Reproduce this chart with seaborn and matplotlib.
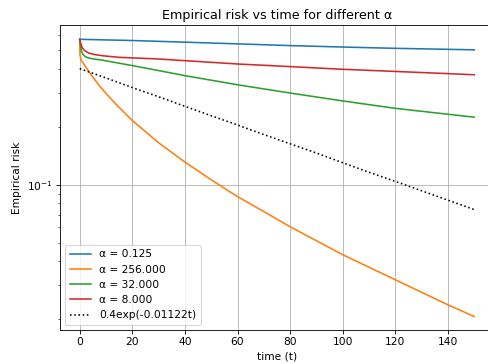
import numpy as np
import pandas as pd
import matplotlib
matplotlib.use("Agg")
import matplotlib.pyplot as plt
import seaborn as sns

# ---- data ----
t_blue = [0, 20, 40, 60, 80, 100, 120, 150]
v_blue = [0.568, 0.560, 0.549, 0.538, 0.527, 0.518, 0.510, 0.501]

t_orange = [0, 0.1, 0.3, 0.5, 1, 2.8, 5, 7.5, 10, 12.5, 15, 20, 30, 40, 50, 60, 70, 80,
            100, 120, 140, 150]
v_orange = [0.568, 0.469, 0.458, 0.444, 0.434, 0.399, 0.361, 0.326, 0.2975, 0.273, 0.2516,
            0.2153, 0.165, 0.131, 0.106, 0.0867, 0.0725, 0.0605, 0.0433, 0.0321, 0.0238,
            0.0207]

t_green = [0, 0.3, 0.65, 1.2, 2.2, 4, 8.5, 15, 25, 40, 60, 80, 100, 120, 150]
v_green = [0.568, 0.525, 0.495, 0.475, 0.461, 0.452, 0.443, 0.427, 0.403, 0.368, 0.330,
           0.299, 0.272, 0.249, 0.224]

t_red = [0, 0.4, 0.9, 1.8, 3.4, 5.5, 8.5, 15, 30, 60, 80, 100, 120, 150]
v_red = [0.568, 0.54, 0.516, 0.497, 0.482, 0.474, 0.467, 0.458, 0.449, 0.423, 0.410, 0.397,
         0.387, 0.372]

alpha_labels = ["α = 0.125", "α = 256.000", "α = 32.000", "α = 8.000"]

# fitted reference line 0.4exp(-0.01122t)
t_fit = [0, 10, 20, 30, 40, 50, 60, 70, 80, 90, 100, 110, 120, 130, 140, 150]
v_fit = [0.400, 0.358, 0.319, 0.286, 0.255, 0.228, 0.204, 0.182, 0.163, 0.146, 0.130,
         0.116, 0.104, 0.0930, 0.0831, 0.0743]
fit_label = "0.4exp(-0.01122t)"

frames = []
for lab, tt, vv in zip(alpha_labels, [t_blue, t_orange, t_green, t_red],
                       [v_blue, v_orange, v_green, v_red]):
    frames.append(pd.DataFrame({"t": tt, "risk": vv, "alpha": lab}))
df = pd.concat(frames, ignore_index=True)
df_fit = pd.DataFrame({"t": t_fit, "risk": v_fit})

DPI = 76.25
fig = plt.figure(figsize=(488 / DPI, 364 / DPI), dpi=DPI)
ax = fig.add_axes([60 / 488, 1 - 330 / 364, 434 / 488, 305 / 364])

palette = ["#1f77b4", "#ff7f0e", "#2ca02c", "#d62728"]
sns.lineplot(data=df, x="t", y="risk", hue="alpha", hue_order=alpha_labels,
             palette=palette, estimator=None, sort=False, linewidth=1.5, ax=ax)
sns.lineplot(data=df_fit, x="t", y="risk", color="black", linestyle=":",
             linewidth=1.5, label=fit_label, ax=ax)

ax.set_yscale("log")
ax.set_xlim(-7.5, 157.5)
ax.set_ylim(0.01762, 0.674)
ax.grid(True, color="#b0b0b0", linewidth=0.8)
ax.set_xlabel("time (t)")
ax.set_ylabel("Empirical risk")
ax.set_title("Empirical risk vs time for different α")
ax.legend(loc="lower left", title=None)

fig.savefig("out.png", dpi=DPI)
